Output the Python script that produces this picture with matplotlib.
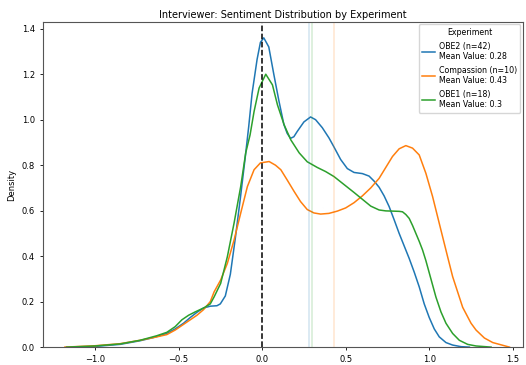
import matplotlib.pyplot as plt

# KDE curves (x = sentiment score, y = density)
obe2_x = [-1.05, -0.95, -0.85, -0.73, -0.65, -0.57, -0.52, -0.47, -0.43, -0.39, -0.35, -0.31,
          -0.27, -0.25, -0.22, -0.19, -0.16, -0.13, -0.10, -0.08, -0.06, -0.03, -0.01, 0.01,
          0.04, 0.07, 0.10, 0.13, 0.15, 0.17, 0.19, 0.21, 0.25, 0.29, 0.32, 0.36, 0.40, 0.43,
          0.47, 0.51, 0.55, 0.60, 0.64, 0.67, 0.70, 0.73, 0.76, 0.79, 0.82, 0.85, 0.88, 0.91,
          0.94, 0.97, 1.00, 1.03, 1.06, 1.10, 1.14, 1.19, 1.24]
obe2_y = [0.0, 0.006, 0.012, 0.028, 0.042, 0.06, 0.08, 0.105, 0.13, 0.153, 0.172, 0.18,
          0.182, 0.19, 0.225, 0.32, 0.48, 0.655, 0.84, 0.97, 1.115, 1.265, 1.34, 1.36,
          1.32, 1.2, 1.085, 0.98, 0.94, 0.918, 0.925, 0.948, 0.99, 1.012, 1.0, 0.965, 0.92, 0.88,
          0.825, 0.785, 0.768, 0.763, 0.752, 0.73, 0.703, 0.665, 0.618, 0.56, 0.50, 0.445, 0.39, 0.33,
          0.265, 0.19, 0.13, 0.08, 0.045, 0.02, 0.009, 0.002, 0.0]

comp_x = [-1.18, -1.0, -0.85, -0.73, -0.63, -0.57, -0.52, -0.47, -0.43, -0.39, -0.35, -0.31,
          -0.287, -0.248, -0.208, -0.168, -0.128, -0.088, -0.048, -0.01, 0.042, 0.08, 0.112,
          0.15, 0.192, 0.23, 0.27, 0.31, 0.35, 0.40, 0.45, 0.50, 0.55, 0.60, 0.65, 0.70, 0.74,
          0.78, 0.82, 0.86, 0.90, 0.94, 0.98, 1.02, 1.06, 1.11, 1.14, 1.20, 1.25, 1.28, 1.33,
          1.38, 1.48]
comp_y = [0.0, 0.006, 0.015, 0.03, 0.045, 0.055, 0.075, 0.1, 0.12, 0.14, 0.165, 0.2,
          0.243, 0.295, 0.368, 0.47, 0.589, 0.706, 0.78, 0.81, 0.816, 0.80, 0.78,
          0.735, 0.684, 0.64, 0.605, 0.59, 0.585, 0.588, 0.598, 0.612, 0.635, 0.665, 0.70, 0.742, 0.79,
          0.838, 0.872, 0.886, 0.875, 0.845, 0.764, 0.662, 0.544, 0.397, 0.31, 0.175, 0.105, 0.075, 0.04,
          0.02, 0.0]

obe1_x = [-1.17, -1.0, -0.85, -0.73, -0.63, -0.57, -0.52, -0.48, -0.44, -0.40, -0.35, -0.31,
          -0.287, -0.248, -0.208, -0.168, -0.128, -0.098, -0.072, -0.048, -0.018, 0.022, 0.062,
          0.092, 0.132, 0.172, 0.222, 0.27, 0.33, 0.38, 0.43, 0.49, 0.55, 0.60, 0.65, 0.70, 0.74,
          0.78, 0.82, 0.84, 0.86, 0.88, 0.90, 0.92, 0.94, 0.96, 0.98, 1.01, 1.04, 1.07, 1.10,
          1.14, 1.18, 1.23, 1.28, 1.37]
obe1_y = [0.0, 0.005, 0.014, 0.03, 0.05, 0.065, 0.09, 0.12, 0.14, 0.155, 0.172, 0.19,
          0.221, 0.28, 0.397, 0.544, 0.706, 0.854, 0.933, 1.036, 1.139, 1.20, 1.153,
          1.065, 0.977, 0.911, 0.854, 0.815, 0.79, 0.772, 0.75, 0.715, 0.68, 0.65, 0.62, 0.603, 0.599,
          0.598, 0.597, 0.595, 0.583, 0.566, 0.535, 0.50, 0.465, 0.427, 0.38, 0.30, 0.22, 0.155, 0.105,
          0.06, 0.03, 0.012, 0.005, 0.0]

labels = ["OBE2 (n=42)\nMean Value: 0.28",
          "Compassion (n=10)\nMean Value: 0.43",
          "OBE1 (n=18)\nMean Value: 0.3"]
means = [0.28, 0.43, 0.3]
colors = ["#1f77b4", "#ff7f0e", "#2ca02c"]

fig = plt.figure(figsize=(5.26, 3.65), dpi=100)
ax = fig.add_axes([0.082, 0.049, 0.912, 0.891])

curves = [(obe2_x, obe2_y), (comp_x, comp_y), (obe1_x, obe1_y)]
for (xs, ys), lab, c in zip(curves, labels, colors):
    ax.plot(xs, ys, color=c, linewidth=1.1, label=lab)
for m, c in zip(means, colors):
    ax.axvline(m, color=c, alpha=0.2, linewidth=1.1)
ax.axvline(0, color="black", linestyle="--", linewidth=1.1)

ax.set_xlim(-1.31, 1.56)
ax.set_ylim(0, 1.43)
ax.set_xticks([-1.0, -0.5, 0.0, 0.5, 1.0, 1.5])
ax.set_yticks([0.0, 0.2, 0.4, 0.6, 0.8, 1.0, 1.2, 1.4])
ax.tick_params(labelsize=6, length=2.5, width=0.6)
for s in ax.spines.values():
    s.set_color("#555555")
    s.set_linewidth(0.8)

ax.set_title("Interviewer: Sentiment Distribution by Experiment", fontsize=7, pad=3)
# the reference crops the x label at the bottom edge
ax.set_xlabel("Sentiment Score", fontsize=6, labelpad=1)
ax.set_ylabel("Density", fontsize=6)
ax.legend(title="Experiment", fontsize=5.7, title_fontsize=5.7, loc="upper right",
          handlelength=1.6, handletextpad=0.5, labelspacing=0.6, borderpad=0.45,
          borderaxespad=0.3)

fig.savefig("out.png", dpi=100)
